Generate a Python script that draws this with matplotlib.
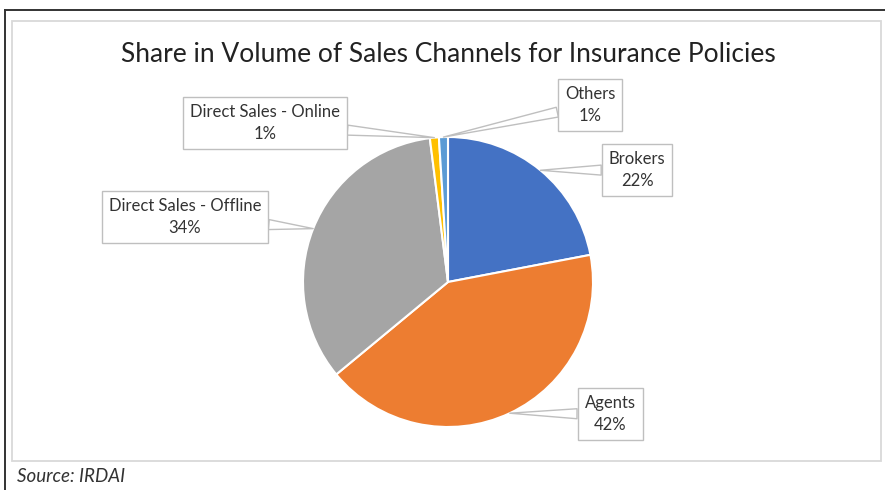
import matplotlib
matplotlib.use("Agg")
import matplotlib.pyplot as plt
from matplotlib.patches import Rectangle
from matplotlib.lines import Line2D
import numpy as np

# データ
channels = ["Brokers", "Agents", "Direct Sales - Offline", "Direct Sales - Online", "Others"]
shares = [22, 42, 34, 1, 1]
colors = ["#4472C4", "#ED7D31", "#A5A5A5", "#FFC000", "#5B9BD5"]

# ラベルボックスの位置 (画像ピクセル, 左上原点)
label_pos = [(637, 170), (610, 414), (185, 217), (265, 123), (590, 105)]

W, H = 885, 490
plt.rcParams["font.family"] = ["Lato", "DejaVu Sans"]

fig = plt.figure(figsize=(W / 100, H / 100), dpi=100)

# 外枠 (黒) と内枠 (薄いグレー)
fig.add_artist(Line2D([5 / W, 1], [1 - 10 / H, 1 - 10 / H], color="#333333", lw=1.4, transform=fig.transFigure))
fig.add_artist(Line2D([5 / W, 5 / W], [0, 1 - 10 / H], color="#333333", lw=1.4, transform=fig.transFigure))
fig.add_artist(Rectangle((12 / W, 1 - 461 / H), (881 - 12) / W, (461 - 21) / H,
                         fill=False, edgecolor="#d9d9d9", lw=1.3, transform=fig.transFigure))

# 円グラフ
cx, cy, r = 448, 282, 145
ax = fig.add_axes([(cx - r) / W, (H - cy - r) / H, 2 * r / W, 2 * r / H])
wedges, _ = ax.pie(shares, colors=colors, startangle=90, counterclock=False,
                   wedgeprops=dict(edgecolor="white", linewidth=1.5))
ax.set_xlim(-1, 1)
ax.set_ylim(-1, 1)

# タイトル
fig.text(cx / W, 1 - 55 / H, "Share in Volume of Sales Channels for Insurance Policies",
         ha="center", va="center", fontsize=19, color="#222222")

# ラベル (吹き出し)
for w, name, val, (lx, ly) in zip(wedges, channels, shares, label_pos):
    ang = np.deg2rad((w.theta1 + w.theta2) / 2)
    ax.annotate(f"{name}\n{val}%", xy=(np.cos(ang), np.sin(ang)), xycoords="data",
                xytext=(lx, H - ly), textcoords="figure pixels",
                ha="center", va="center", multialignment="center",
                fontsize=12, color="#333333", linespacing=1.4,
                bbox=dict(boxstyle="square,pad=0.42", fc="white", ec="#bfbfbf", lw=1),
                arrowprops=dict(arrowstyle="wedge,tail_width=0.6", fc="white", ec="#bfbfbf",
                                lw=1, shrinkA=0, shrinkB=0),
                annotation_clip=False)

# 出典
fig.text(17 / W, 1 - 476 / H, "Source: IRDAI", ha="left", va="center",
         fontsize=13.5, style="italic", color="#333333")

fig.savefig("out.png", dpi=100)
